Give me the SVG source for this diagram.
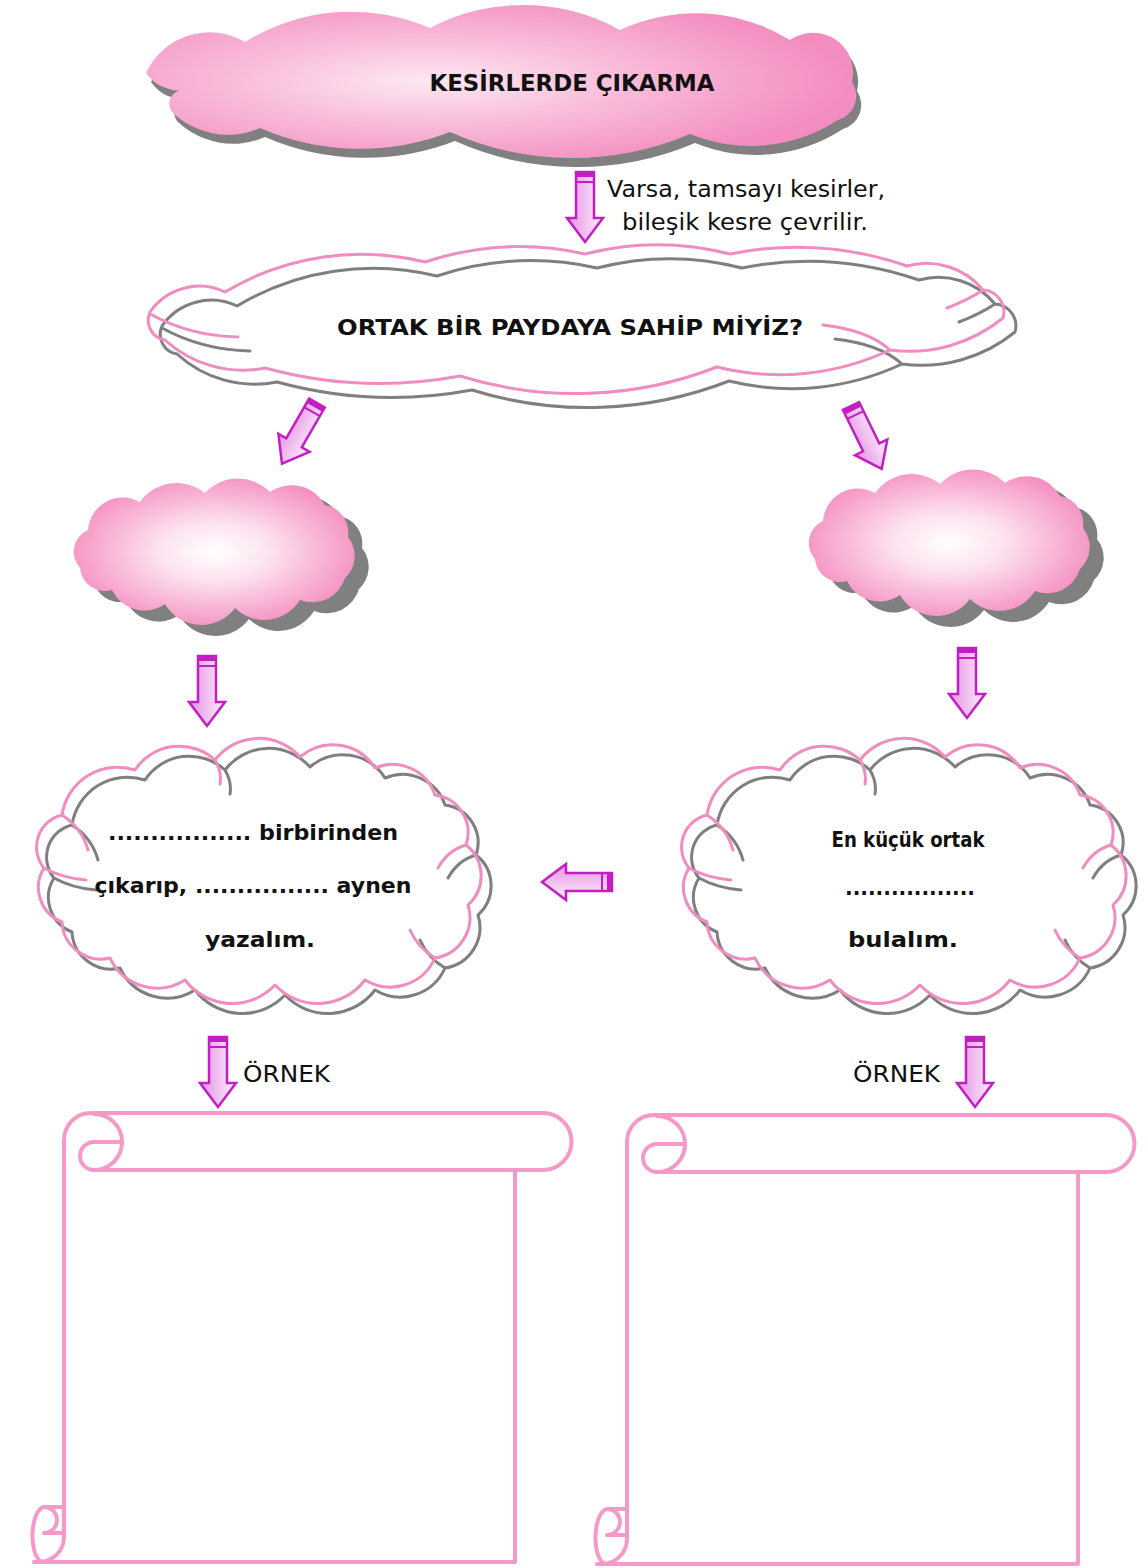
<svg xmlns="http://www.w3.org/2000/svg" xmlns:xlink="http://www.w3.org/1999/xlink" width="1146" height="1568" viewBox="0 0 1146 1568">
  <defs>
    <style>
      .shadow { fill: #808080; }
      .line-pink { fill: none; stroke: #f08dc0; stroke-width: 3; stroke-linecap: round; stroke-linejoin: round; }
      .line-grey { fill: none; stroke: #7f7f7f; stroke-width: 3; stroke-linecap: round; stroke-linejoin: round; }
      .scroll { fill: none; stroke: #f59ac8; stroke-width: 4; stroke-linecap: round; stroke-linejoin: round; }
      .title { font-family: "DejaVu Sans", "Liberation Sans", sans-serif; font-weight: bold; font-size: 23px; fill: #111; }
      .question { font-family: "DejaVu Sans", "Liberation Sans", sans-serif; font-weight: bold; font-size: 22px; fill: #111; }
      .label { font-family: "DejaVu Sans", "Liberation Sans", sans-serif; font-size: 23px; fill: #111; }
      .body { font-family: "DejaVu Sans", "Liberation Sans", sans-serif; font-weight: bold; font-size: 22px; fill: #111; }
    </style>
    <radialGradient id="topFill" cx="0.4" cy="0.5" r="0.6">
      <stop offset="0" stop-color="#fde8f3"/>
      <stop offset="0.45" stop-color="#f9bddb"/>
      <stop offset="1" stop-color="#f38cbf"/>
    </radialGradient>
    <radialGradient id="smallFill" cx="0.5" cy="0.5" r="0.55">
      <stop offset="0" stop-color="#ffffff"/>
      <stop offset="0.35" stop-color="#fde3f0"/>
      <stop offset="1" stop-color="#f48cbf"/>
    </radialGradient>
    <linearGradient id="arrowFill" x1="0" y1="0" x2="1" y2="0">
      <stop offset="0" stop-color="#e591e5"/>
      <stop offset="1" stop-color="#fdf0fc"/>
    </linearGradient>
    <!-- block arrow pointing down, origin at the top centre -->
    <g id="arrowDown">
      <path d="M-9,0 H9 V46 H18 L0,70 L-18,46 H-9 Z" fill="url(#arrowFill)" stroke="#c21fc2" stroke-width="2.5" stroke-linejoin="miter"/>
      <rect x="-9" y="0" width="18" height="5" fill="#c21fc2"/>
      <line x1="-9" y1="10" x2="9" y2="10" stroke="#c21fc2" stroke-width="2"/>
    </g>
    <path id="topCloud" d="M146,73 A70 70 0 0 1 245,42 A200 200 0 0 1 430,28 A200 200 0 0 1 620,30 A180 180 0 0 1 790,40 A40 40 0 0 1 852,82 A25 25 0 0 1 838,120 A160 160 0 0 1 690,134 A300 300 0 0 1 450,132 A250 250 0 0 1 260,128 A80 80 0 0 1 172,112 A14 14 0 0 1 185,90 A40 40 0 0 1 146,73 Z"/>
    <path id="wideCloud" d="M150,312 A60 60 0 0 1 225,292 A265 265 0 0 1 425,262 A300 300 0 0 1 585,254 A292 292 0 0 1 730,254 A336 336 0 0 1 907,266 A73 73 0 0 1 983,290 A22 22 0 0 1 1003,318 A148 148 0 0 1 890,350 A260 260 0 0 1 717,367 A389 389 0 0 1 460,376 A437 437 0 0 1 265,368 A115 115 0 0 1 165,340 A20 20 0 0 1 150,312 Z M150,314 Q190,336 238,337 M823,325 Q868,330 890,350 M947,308 Q968,300 983,290"/>
    <path id="smallCloud" d="M88,530 A35 35 0 0 1 140,502 A45 45 0 0 1 205,493 A45 45 0 0 1 270,492 A38 38 0 0 1 325,505 A28 28 0 0 1 348,537 A30 30 0 0 1 345,578 A34 34 0 0 1 300,600 A42 42 0 0 1 235,608 A42 42 0 0 1 165,604 A36 36 0 0 1 112,590 A25 25 0 0 1 80,568 A24 24 0 0 1 88,530 Z"/>
    <path id="roundCloud" d="M62,815 A56 56 0 0 1 135,770 A53 53 0 0 1 215,760 A55 55 0 0 1 300,757 A50 50 0 0 1 375,768 A45 45 0 0 1 435,795 A38 38 0 0 1 466,845 A39 39 0 0 1 468,905 A41 41 0 0 1 435,958 A49 49 0 0 1 365,980 A59 59 0 0 1 275,985 A59 59 0 0 1 185,980 A52 52 0 0 1 110,958 A39 39 0 0 1 62,922 A37 37 0 0 1 44,868 A33 33 0 0 1 62,815 Z M62,815 Q82,828 88,850 M44,868 Q62,878 86,880 M466,845 Q448,850 438,868 M435,958 Q418,948 410,930 M215,760 Q222,772 220,784"/>
    <!-- paper scroll: rolled top, curled bottom corner -->
    <g id="scroll">
      <path class="scroll" d="M543,1113 H91 A27 27 0 0 0 64,1140 V1537 A25 25 0 0 1 39,1562"/>
      <path class="scroll" d="M94,1114 A28 28 0 0 1 94,1170"/>
      <path class="scroll" d="M122,1142 H94 A14 14 0 0 0 94,1170 H543 A28.5 28.5 0 0 0 543,1113"/>
      <path class="scroll" d="M515,1170 V1562 H34"/>
      <path class="scroll" d="M64,1507 H44 A13 13 0 0 1 44,1533 H64"/>
      <path class="scroll" d="M44,1507 C30,1510 28,1556 42,1562"/>
    </g>
  </defs>

  <rect width="1146" height="1568" fill="#ffffff"/>

  <!-- title cloud -->
  <g id="node-title">
    <use xlink:href="#topCloud" class="shadow" transform="translate(5,9)"/>
    <use xlink:href="#topCloud" fill="url(#topFill)"/>
    <text class="title" x="572" y="91" text-anchor="middle" textLength="285" lengthAdjust="spacingAndGlyphs">KESİRLERDE ÇIKARMA</text>
  </g>

  <!-- note beside the first arrow -->
  <g id="node-note">
    <text class="label" x="607" y="197" textLength="278" lengthAdjust="spacingAndGlyphs">Varsa, tamsayı kesirler,</text>
    <text class="label" x="622" y="230" textLength="246" lengthAdjust="spacingAndGlyphs">bileşik kesre çevrilir.</text>
  </g>

  <!-- question cloud -->
  <g id="node-question">
    <use xlink:href="#wideCloud" class="line-grey" transform="translate(12,14)"/>
    <use xlink:href="#wideCloud" class="line-pink"/>
    <text class="question" x="570" y="335" text-anchor="middle" textLength="466" lengthAdjust="spacingAndGlyphs">ORTAK BİR PAYDAYA SAHİP MİYİZ?</text>
  </g>

  <!-- empty answer clouds -->
  <g id="node-yes">
    <use xlink:href="#smallCloud" class="shadow" transform="translate(14,11)"/>
    <use xlink:href="#smallCloud" fill="url(#smallFill)"/>
  </g>
  <g id="node-no" transform="translate(735,-9)">
    <use xlink:href="#smallCloud" class="shadow" transform="translate(14,11)"/>
    <use xlink:href="#smallCloud" fill="url(#smallFill)"/>
  </g>

  <!-- step clouds -->
  <g id="node-subtract">
    <use xlink:href="#roundCloud" class="line-grey" transform="translate(10,10)"/>
    <use xlink:href="#roundCloud" class="line-pink"/>
    <text class="body" x="253" y="840" text-anchor="middle" textLength="290" lengthAdjust="spacingAndGlyphs">................. birbirinden</text>
    <text class="body" x="253" y="893" text-anchor="middle" textLength="317" lengthAdjust="spacingAndGlyphs">çıkarıp, ................ aynen</text>
    <text class="body" x="260" y="947" text-anchor="middle" textLength="110" lengthAdjust="spacingAndGlyphs">yazalım.</text>
  </g>
  <g id="node-lcd">
    <g transform="translate(645,0)">
      <use xlink:href="#roundCloud" class="line-grey" transform="translate(10,10)"/>
      <use xlink:href="#roundCloud" class="line-pink"/>
    </g>
    <text class="body" x="908" y="847" text-anchor="middle" font-size="20" textLength="153" lengthAdjust="spacingAndGlyphs">En küçük ortak</text>
    <text class="body" x="910" y="895" text-anchor="middle" textLength="130" lengthAdjust="spacingAndGlyphs">.................</text>
    <text class="body" x="903" y="947" text-anchor="middle" textLength="110" lengthAdjust="spacingAndGlyphs">bulalım.</text>
  </g>

  <!-- example scrolls -->
  <g id="node-example-left">
    <use xlink:href="#scroll"/>
    <text class="label" x="243" y="1082" textLength="87" lengthAdjust="spacingAndGlyphs">ÖRNEK</text>
  </g>
  <g id="node-example-right">
    <use xlink:href="#scroll" transform="translate(563,2)"/>
    <text class="label" x="853" y="1082" textLength="87" lengthAdjust="spacingAndGlyphs">ÖRNEK</text>
  </g>

  <!-- connectors -->
  <g id="connectors">
    <use xlink:href="#arrowDown" transform="translate(585,172)"/>
    <use xlink:href="#arrowDown" transform="translate(317,403) rotate(30)"/>
    <use xlink:href="#arrowDown" transform="translate(851,406) rotate(-26)"/>
    <use xlink:href="#arrowDown" transform="translate(207,656)"/>
    <use xlink:href="#arrowDown" transform="translate(967,648)"/>
    <use xlink:href="#arrowDown" transform="translate(612,882) rotate(90)"/>
    <use xlink:href="#arrowDown" transform="translate(218,1037)"/>
    <use xlink:href="#arrowDown" transform="translate(975,1037)"/>
  </g>
</svg>
